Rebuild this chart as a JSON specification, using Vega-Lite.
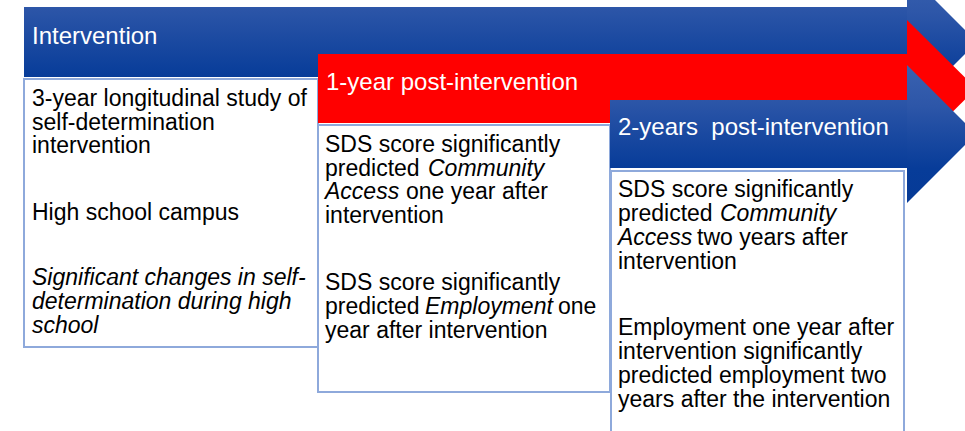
{
  "$schema": "https://vega.github.io/schema/vega-lite/v6.json",
  "width": 965,
  "height": 431,
  "autosize": {"type": "none"},
  "padding": 0,
  "background": "white",
  "config": {"view": {"stroke": null}},
  "datasets": {
    "bands": [
      {"phase": "Intervention", "x0": 24, "x1": 907, "y0": 7, "y1": 77},
      {"phase": "1-year", "x0": 318, "x1": 907, "y0": 54, "y1": 123},
      {"phase": "2-years", "x0": 610, "x1": 907, "y0": 100, "y1": 168}
    ],
    "heads": [
      {"phase": "Intervention", "x": 907, "y0": -28, "y1": 112},
      {"phase": "Intervention", "x": 977, "y0": 42, "y1": 42},
      {"phase": "1-year", "x": 907, "y0": 20, "y1": 157},
      {"phase": "1-year", "x": 976, "y0": 88.5, "y1": 88.5},
      {"phase": "2-years", "x": 907, "y0": 65, "y1": 203},
      {"phase": "2-years", "x": 976, "y0": 134, "y1": 134}
    ],
    "boxes": [
      {"phase": "Intervention", "x0": 24, "x1": 318, "y0": 79, "y1": 347},
      {"phase": "1-year", "x0": 318, "x1": 610, "y0": 125, "y1": 392},
      {"phase": "2-years", "x0": 611, "x1": 904, "y0": 171, "y1": 450}
    ],
    "texts": [
      {"kind": "header", "x": 32, "y": 44, "text": "Intervention"},
      {"kind": "header", "x": 326, "y": 89.5, "text": "1-year post-intervention"},
      {"kind": "header", "x": 618, "y": 135, "text": "2-years\u00a0 post-intervention"},
      {"kind": "body", "x": 32, "y": 106, "text": "3-year longitudinal study of"},
      {"kind": "body", "x": 32, "y": 129.5, "text": "self-determination"},
      {"kind": "body", "x": 32, "y": 153, "text": "intervention"},
      {"kind": "body", "x": 32, "y": 220, "text": "High school campus"},
      {"kind": "italic", "x": 32, "y": 285, "text": "Significant changes in self-"},
      {"kind": "italic", "x": 32, "y": 309, "text": "determination during high"},
      {"kind": "italic", "x": 32, "y": 333, "text": "school"},
      {"kind": "body", "x": 325, "y": 152, "text": "SDS score significantly"},
      {"kind": "body", "x": 325, "y": 175.5, "text": "predicted"},
      {"kind": "italic", "x": 428, "y": 175.5, "text": "Community"},
      {"kind": "italic", "x": 325, "y": 199, "text": "Access"},
      {"kind": "body", "x": 406, "y": 199, "text": "one year after"},
      {"kind": "body", "x": 325, "y": 222.5, "text": "intervention"},
      {"kind": "body", "x": 325, "y": 289.5, "text": "SDS score significantly"},
      {"kind": "body", "x": 325, "y": 313.5, "text": "predicted"},
      {"kind": "italic", "x": 425, "y": 313.5, "text": "Employment"},
      {"kind": "body", "x": 558, "y": 313.5, "text": "one"},
      {"kind": "body", "x": 325, "y": 338, "text": "year after intervention"},
      {"kind": "body", "x": 618, "y": 197, "text": "SDS score significantly"},
      {"kind": "body", "x": 618, "y": 221, "text": "predicted"},
      {"kind": "italic", "x": 720, "y": 221, "text": "Community"},
      {"kind": "italic", "x": 618, "y": 245, "text": "Access"},
      {"kind": "body", "x": 697, "y": 245, "text": "two years after"},
      {"kind": "body", "x": 618, "y": 268.5, "text": "intervention"},
      {"kind": "body", "x": 618, "y": 335, "text": "Employment one year after"},
      {"kind": "body", "x": 618, "y": 359, "text": "intervention significantly"},
      {"kind": "body", "x": 618, "y": 383, "text": "predicted employment two"},
      {"kind": "body", "x": 618, "y": 407, "text": "years after the intervention"}
    ]
  },
  "resolve": {"scale": {"x": "shared", "y": "shared"}},
  "layer": [
    {
      "data": {"name": "bands"},
      "transform": [{"filter": "datum.phase === 'Intervention'"}],
      "mark": {"type": "rect", "clip": true, "fill": {"gradient": "linear", "x1": 0, "y1": 0, "x2": 0, "y2": 1, "stops": [{"offset": 0, "color": "#2D56A8"}, {"offset": 1, "color": "#073C99"}]}},
      "encoding": {
        "x": {"field": "x0", "type": "quantitative", "scale": {"domain": [0, 965], "range": [0, 965], "nice": false, "zero": false}, "axis": null},
        "x2": {"field": "x1"},
        "y": {"field": "y0", "type": "quantitative", "scale": {"domain": [0, 431], "range": [0, 431], "nice": false, "zero": false}, "axis": null},
        "y2": {"field": "y1"}
      }
    },
    {
      "data": {"name": "heads"},
      "transform": [{"filter": "datum.phase === 'Intervention'"}],
      "mark": {"type": "area", "orient": "vertical", "clip": true, "fill": {"gradient": "linear", "x1": 0, "y1": 0, "x2": 0, "y2": 1, "stops": [{"offset": 0, "color": "#3A62B0"}, {"offset": 0.3, "color": "#2D56A8"}, {"offset": 0.75, "color": "#073C99"}, {"offset": 1, "color": "#063A96"}]}},
      "encoding": {
        "x": {"field": "x", "type": "quantitative"},
        "y": {"field": "y0", "type": "quantitative"},
        "y2": {"field": "y1"}
      }
    },
    {
      "data": {"name": "boxes"},
      "transform": [{"filter": "datum.phase === 'Intervention'"}],
      "mark": {"type": "rect", "clip": true, "fill": "white", "stroke": "#8EA9DB", "strokeWidth": 2},
      "encoding": {
        "x": {"field": "x0", "type": "quantitative"},
        "x2": {"field": "x1"},
        "y": {"field": "y0", "type": "quantitative"},
        "y2": {"field": "y1"}
      }
    },
    {
      "data": {"name": "bands"},
      "transform": [{"filter": "datum.phase === '1-year'"}],
      "mark": {"type": "rect", "clip": true, "fill": "#FF0000"},
      "encoding": {
        "x": {"field": "x0", "type": "quantitative"},
        "x2": {"field": "x1"},
        "y": {"field": "y0", "type": "quantitative"},
        "y2": {"field": "y1"}
      }
    },
    {
      "data": {"name": "heads"},
      "transform": [{"filter": "datum.phase === '1-year'"}],
      "mark": {"type": "area", "orient": "vertical", "clip": true, "fill": "#FF0000"},
      "encoding": {
        "x": {"field": "x", "type": "quantitative"},
        "y": {"field": "y0", "type": "quantitative"},
        "y2": {"field": "y1"}
      }
    },
    {
      "data": {"name": "boxes"},
      "transform": [{"filter": "datum.phase === '1-year'"}],
      "mark": {"type": "rect", "clip": true, "fill": "white", "stroke": "#8EA9DB", "strokeWidth": 2},
      "encoding": {
        "x": {"field": "x0", "type": "quantitative"},
        "x2": {"field": "x1"},
        "y": {"field": "y0", "type": "quantitative"},
        "y2": {"field": "y1"}
      }
    },
    {
      "data": {"name": "bands"},
      "transform": [{"filter": "datum.phase === '2-years'"}],
      "mark": {"type": "rect", "clip": true, "fill": {"gradient": "linear", "x1": 0, "y1": 0, "x2": 0, "y2": 1, "stops": [{"offset": 0, "color": "#2D56A8"}, {"offset": 1, "color": "#073C99"}]}},
      "encoding": {
        "x": {"field": "x0", "type": "quantitative"},
        "x2": {"field": "x1"},
        "y": {"field": "y0", "type": "quantitative"},
        "y2": {"field": "y1"}
      }
    },
    {
      "data": {"name": "heads"},
      "transform": [{"filter": "datum.phase === '2-years'"}],
      "mark": {"type": "area", "orient": "vertical", "clip": true, "fill": {"gradient": "linear", "x1": 0, "y1": 0, "x2": 0, "y2": 1, "stops": [{"offset": 0, "color": "#3A62B0"}, {"offset": 0.3, "color": "#2D56A8"}, {"offset": 0.75, "color": "#073C99"}, {"offset": 1, "color": "#063A96"}]}},
      "encoding": {
        "x": {"field": "x", "type": "quantitative"},
        "y": {"field": "y0", "type": "quantitative"},
        "y2": {"field": "y1"}
      }
    },
    {
      "data": {"name": "boxes"},
      "transform": [{"filter": "datum.phase === '2-years'"}],
      "mark": {"type": "rect", "clip": true, "fill": "white", "stroke": "#8EA9DB", "strokeWidth": 2},
      "encoding": {
        "x": {"field": "x0", "type": "quantitative"},
        "x2": {"field": "x1"},
        "y": {"field": "y0", "type": "quantitative"},
        "y2": {"field": "y1"}
      }
    },
    {
      "data": {"name": "texts"},
      "transform": [{"filter": "datum.kind === 'header'"}],
      "mark": {"type": "text", "align": "left", "baseline": "alphabetic", "font": "Liberation Sans", "fontSize": 24, "color": "#FFFFFF"},
      "encoding": {
        "x": {"field": "x", "type": "quantitative"},
        "y": {"field": "y", "type": "quantitative"},
        "text": {"field": "text"}
      }
    },
    {
      "data": {"name": "texts"},
      "transform": [{"filter": "datum.kind === 'body'"}],
      "mark": {"type": "text", "align": "left", "baseline": "alphabetic", "font": "Liberation Sans", "fontSize": 23, "color": "#000000"},
      "encoding": {
        "x": {"field": "x", "type": "quantitative"},
        "y": {"field": "y", "type": "quantitative"},
        "text": {"field": "text"}
      }
    },
    {
      "data": {"name": "texts"},
      "transform": [{"filter": "datum.kind === 'italic'"}],
      "mark": {"type": "text", "align": "left", "baseline": "alphabetic", "font": "Liberation Sans", "fontSize": 23, "fontStyle": "italic", "color": "#000000"},
      "encoding": {
        "x": {"field": "x", "type": "quantitative"},
        "y": {"field": "y", "type": "quantitative"},
        "text": {"field": "text"}
      }
    }
  ]
}
